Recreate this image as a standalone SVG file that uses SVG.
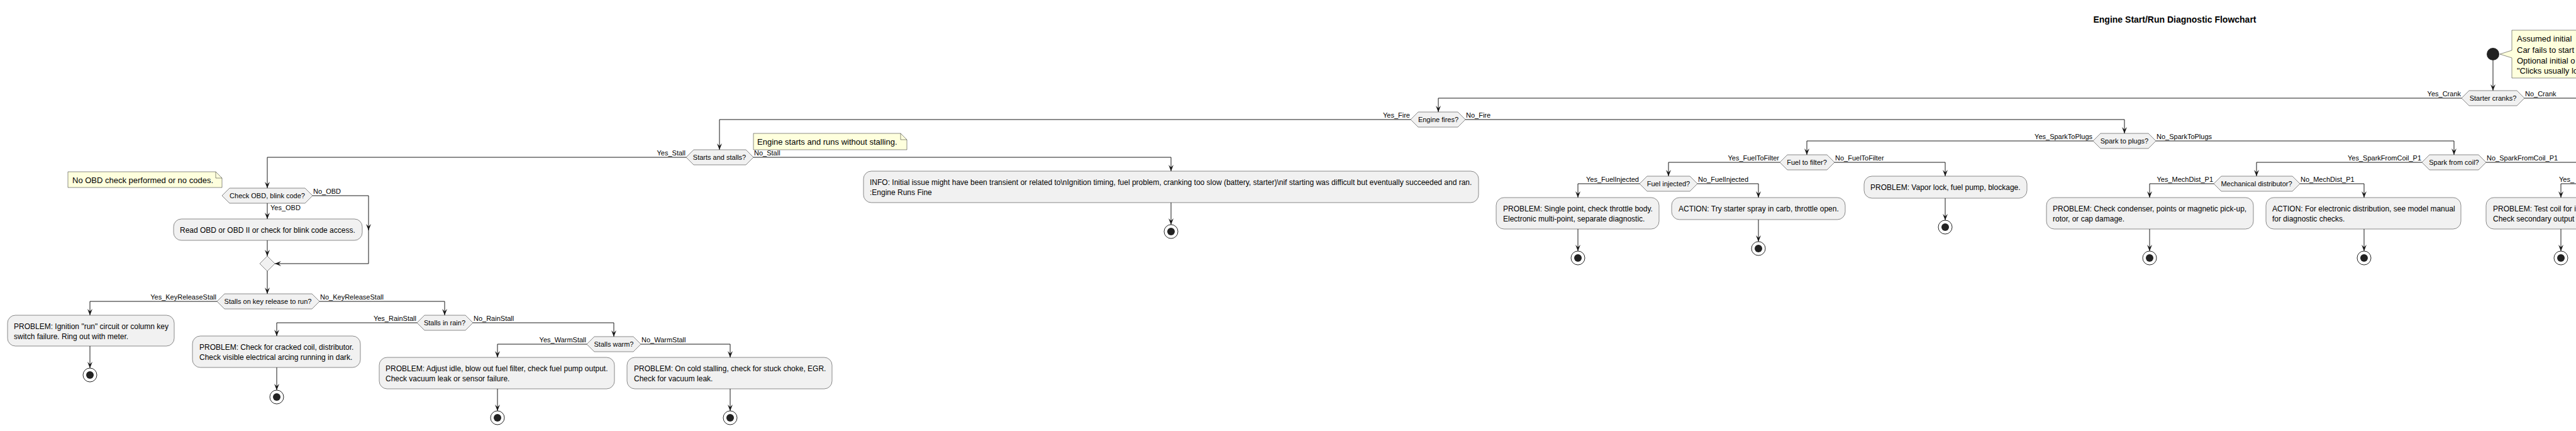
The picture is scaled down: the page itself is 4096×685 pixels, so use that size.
<svg xmlns="http://www.w3.org/2000/svg" width="4096" height="685" viewBox="0 0 4096 685">
<style>
.box{fill:#F1F1F1;stroke:#181818;stroke-width:0.5}
.dec{fill:#F1F1F1;stroke:#181818;stroke-width:0.5}
.note{fill:#FEFFDD;stroke:#181818;stroke-width:0.5}
.fold{fill:none;stroke:#181818;stroke-width:0.5}
.e{fill:none;stroke:#181818;stroke-width:1;marker-end:url(#ah)}
.en{fill:none;stroke:#181818;stroke-width:1}
text{font-family:"Liberation Sans",Arial,sans-serif;fill:#000}
.t12{font-size:12px}
.t11{font-size:11px}
.t13{font-size:13px}
.mid{text-anchor:middle}
.end{text-anchor:end}
.title{font-size:14px;font-weight:bold;text-anchor:middle}
.eo{fill:none;stroke:#222;stroke-width:1}
.ei{fill:#222}
</style>
<defs>
<marker id="ah" markerUnits="userSpaceOnUse" markerWidth="10" markerHeight="10" refX="10" refY="5" orient="auto" viewBox="0 0 10 10"><path d="M0,1 L10,5 L0,9 L4,5 Z" fill="#181818"/></marker>
</defs>
<rect width="4096" height="685" fill="#FFFFFF"/>
<text class="title" x="3458" y="36">Engine Start/Run Diagnostic Flowchart</text>

<g id="connectors">
<path class="e" d="M3964,96 V144"/>
<path class="e" d="M3914,156 H2287 V178"/>
<path class="en" d="M4014,156 H4110"/>
<path class="e" d="M2243,190 H1144 V238"/>
<path class="e" d="M2330,190 H3378 V212"/>
<path class="e" d="M1091,250 H425 V299"/>
<path class="e" d="M1198,250 H1862 V272"/>
<path class="e" d="M1862,322 V357"/>
<path class="e" d="M425,323 V348"/>
<path class="e" d="M497,311 H586 V366"/>
<path class="e" d="M586,360 V419 H437"/>
<path class="e" d="M425,382 V407"/>
<path class="e" d="M425,431 V467"/>
<path class="e" d="M345,479 H143 V501"/>
<path class="e" d="M143,550 V585"/>
<path class="e" d="M508,479 H707 V501"/>
<path class="e" d="M663,513 H440 V534"/>
<path class="e" d="M440,584 V620"/>
<path class="e" d="M752,513 H976 V535"/>
<path class="e" d="M933,547 H791 V568"/>
<path class="e" d="M791,618 V653"/>
<path class="e" d="M1019,547 H1161 V568"/>
<path class="e" d="M1161,618 V653"/>
<path class="e" d="M3328,224 H2873 V246"/>
<path class="e" d="M3428,224 H3902 V246"/>
<path class="e" d="M2830,258 H2653 V280"/>
<path class="e" d="M2917,258 H3093 V280"/>
<path class="e" d="M3093,315 V350"/>
<path class="e" d="M2607,292 H2509 V314"/>
<path class="e" d="M2699,292 H2796 V314"/>
<path class="e" d="M2509,364 V399"/>
<path class="e" d="M2796,349 V384"/>
<path class="e" d="M3851,258 H3588 V280"/>
<path class="en" d="M3953,258 H4110"/>
<path class="e" d="M3520,292 H3418 V314"/>
<path class="e" d="M3657,292 H3759 V314"/>
<path class="e" d="M3418,364 V399"/>
<path class="e" d="M3759,364 V399"/>
<path class="e" d="M4110,292 H4072 V314"/>
<path class="e" d="M4072,364 V399"/>

<text class="t11 end" x="3913" y="153">Yes_Crank</text>
<text class="t11" x="4015" y="153">No_Crank</text>
<text class="t11 end" x="2242" y="187">Yes_Fire</text>
<text class="t11" x="2331" y="187">No_Fire</text>
<text class="t11 end" x="1090" y="247">Yes_Stall</text>
<text class="t11" x="1199" y="247">No_Stall</text>
<text class="t11" x="430" y="334">Yes_OBD</text>
<text class="t11" x="498" y="308">No_OBD</text>
<text class="t11 end" x="344" y="476">Yes_KeyReleaseStall</text>
<text class="t11" x="509" y="476">No_KeyReleaseStall</text>
<text class="t11 end" x="662" y="510">Yes_RainStall</text>
<text class="t11" x="753" y="510">No_RainStall</text>
<text class="t11 end" x="932" y="544">Yes_WarmStall</text>
<text class="t11" x="1020" y="544">No_WarmStall</text>
<text class="t11 end" x="3327" y="221">Yes_SparkToPlugs</text>
<text class="t11" x="3429" y="221">No_SparkToPlugs</text>
<text class="t11 end" x="2829" y="255">Yes_FuelToFilter</text>
<text class="t11" x="2918" y="255">No_FuelToFilter</text>
<text class="t11 end" x="2606" y="289">Yes_FuelInjected</text>
<text class="t11" x="2700" y="289">No_FuelInjected</text>
<text class="t11 end" x="3850" y="255">Yes_SparkFromCoil_P1</text>
<text class="t11" x="3954" y="255">No_SparkFromCoil_P1</text>
<text class="t11 end" x="3519" y="289">Yes_MechDist_P1</text>
<text class="t11" x="3658" y="289">No_MechDist_P1</text>
<text class="t11" x="4069" y="289">Yes_</text>
</g>

<g id="start"><circle cx="3964" cy="86" r="10" fill="#222"/></g>
<g id="note_start">
<path class="note" d="M3994,48 H4110 V124 H3994 V92 L3975,86 L3994,80 Z"/>
<text class="t13" x="4002" y="66">Assumed initial</text>
<text class="t13" x="4002" y="84">Car fails to start</text>
<text class="t13" x="4002" y="101">Optional initial o</text>
<text class="t13" x="4002" y="117">"Clicks usually lo</text>
</g>

<g id="starter_cranks"><path class="dec" d="M3914,156 L3926,144 H4002 L4014,156 L4002,168 H3926 Z"/><text class="t11 mid" x="3964" y="160">Starter cranks?</text></g>
<g id="engine_fires"><path class="dec" d="M2243,190 L2255,178 H2318 L2330,190 L2318,202 H2255 Z"/><text class="t11 mid" x="2287" y="194">Engine fires?</text></g>
<g id="starts_stalls"><path class="dec" d="M1091,250 L1103,238 H1186 L1198,250 L1186,262 H1103 Z"/><text class="t11 mid" x="1144" y="254">Starts and stalls?</text></g>
<g id="note_runs"><path class="note" d="M1198,212 H1432 L1442,222 V238 H1198 Z"/><path class="fold" d="M1432,212 V222 H1442"/><text class="t13" x="1204" y="230">Engine starts and runs without stalling.</text></g>
<g id="info"><rect class="box" x="1373" y="272" width="978" height="50" rx="12.5"/><text class="t12" x="1383" y="294">INFO: Initial issue might have been transient or related to\nIgnition timing, fuel problem, cranking too slow (battery, starter)\nif starting was difficult but eventually succeeded and ran.</text><text class="t12" x="1383" y="310">:Engine Runs Fine</text></g>
<g id="end_info"><circle class="eo" cx="1862" cy="368" r="11"/><circle class="ei" cx="1862" cy="368" r="6"/></g>

<g id="check_obd"><path class="dec" d="M353,311 L365,299 H485 L497,311 L485,323 H365 Z"/><text class="t11 mid" x="425" y="315">Check OBD, blink code?</text></g>
<g id="note_obd"><path class="note" d="M108,273 H343 L353,283 V298 H108 Z"/><path class="fold" d="M343,273 V283 H353"/><text class="t13" x="115" y="291">No OBD check performed or no codes.</text></g>
<g id="read_obd"><rect class="box" x="276" y="348" width="300" height="34" rx="12.5"/><text class="t12" x="286" y="370">Read OBD or OBD II or check for blink code access.</text></g>
<g id="merge"><path class="dec" d="M425,407 L437,419 L425,431 L413,419 Z"/></g>
<g id="stalls_key"><path class="dec" d="M345,479 L357,467 H496 L508,479 L496,491 H357 Z"/><text class="t11 mid" x="426" y="483">Stalls on key release to run?</text></g>
<g id="p_ignition"><rect class="box" x="12" y="501" width="265" height="49" rx="12.5"/><text class="t12" x="22" y="523">PROBLEM: Ignition "run" circuit or column key</text><text class="t12" x="22" y="539">switch failure. Ring out with meter.</text></g>
<g id="end_ign"><circle class="eo" cx="143" cy="596" r="11"/><circle class="ei" cx="143" cy="596" r="6"/></g>
<g id="stalls_rain"><path class="dec" d="M663,513 L675,501 H740 L752,513 L740,525 H675 Z"/><text class="t11 mid" x="707" y="517">Stalls in rain?</text></g>
<g id="p_coil"><rect class="box" x="306" y="534" width="267" height="50" rx="12.5"/><text class="t12" x="317" y="556">PROBLEM: Check for cracked coil, distributor.</text><text class="t12" x="317" y="572">Check visible electrical arcing running in dark.</text></g>
<g id="end_coil"><circle class="eo" cx="440" cy="631" r="11"/><circle class="ei" cx="440" cy="631" r="6"/></g>
<g id="stalls_warm"><path class="dec" d="M933,547 L945,535 H1007 L1019,547 L1007,559 H945 Z"/><text class="t11 mid" x="976" y="551">Stalls warm?</text></g>
<g id="p_idle"><rect class="box" x="603" y="568" width="374" height="50" rx="12.5"/><text class="t12" x="613" y="590">PROBLEM: Adjust idle, blow out fuel filter, check fuel pump output.</text><text class="t12" x="613" y="606">Check vacuum leak or sensor failure.</text></g>
<g id="end_idle"><circle class="eo" cx="791" cy="664" r="11"/><circle class="ei" cx="791" cy="664" r="6"/></g>
<g id="p_cold"><rect class="box" x="997" y="568" width="326" height="50" rx="12.5"/><text class="t12" x="1008" y="590">PROBLEM: On cold stalling, check for stuck choke, EGR.</text><text class="t12" x="1008" y="606">Check for vacuum leak.</text></g>
<g id="end_cold"><circle class="eo" cx="1161" cy="664" r="11"/><circle class="ei" cx="1161" cy="664" r="6"/></g>

<g id="spark_plugs"><path class="dec" d="M3328,224 L3340,212 H3416 L3428,224 L3416,236 H3340 Z"/><text class="t11 mid" x="3378" y="228">Spark to plugs?</text></g>
<g id="fuel_filter"><path class="dec" d="M2830,258 L2842,246 H2905 L2917,258 L2905,270 H2842 Z"/><text class="t11 mid" x="2873" y="262">Fuel to filter?</text></g>
<g id="fuel_injected"><path class="dec" d="M2607,292 L2619,280 H2687 L2699,292 L2687,304 H2619 Z"/><text class="t11 mid" x="2653" y="296">Fuel injected?</text></g>
<g id="p_single"><rect class="box" x="2379" y="314" width="259" height="50" rx="12.5"/><text class="t12" x="2390" y="336">PROBLEM: Single point, check throttle body.</text><text class="t12" x="2390" y="352">Electronic multi-point, separate diagnostic.</text></g>
<g id="end_single"><circle class="eo" cx="2509" cy="410" r="11"/><circle class="ei" cx="2509" cy="410" r="6"/></g>
<g id="a_spray"><rect class="box" x="2658" y="314" width="276" height="35" rx="12.5"/><text class="t12" x="2669" y="336">ACTION: Try starter spray in carb, throttle open.</text></g>
<g id="end_spray"><circle class="eo" cx="2796" cy="395" r="11"/><circle class="ei" cx="2796" cy="395" r="6"/></g>
<g id="p_vapor"><rect class="box" x="2964" y="280" width="259" height="35" rx="12.5"/><text class="t12" x="2974" y="302">PROBLEM: Vapor lock, fuel pump, blockage.</text></g>
<g id="end_vapor"><circle class="eo" cx="3093" cy="361" r="11"/><circle class="ei" cx="3093" cy="361" r="6"/></g>
<g id="spark_coil"><path class="dec" d="M3851,258 L3863,246 H3941 L3953,258 L3941,270 H3863 Z"/><text class="t11 mid" x="3902" y="262">Spark from coil?</text></g>
<g id="mech_dist"><path class="dec" d="M3520,292 L3532,280 H3645 L3657,292 L3645,304 H3532 Z"/><text class="t11 mid" x="3588" y="296">Mechanical distributor?</text></g>
<g id="p_condenser"><rect class="box" x="3254" y="314" width="329" height="50" rx="12.5"/><text class="t12" x="3264" y="336">PROBLEM: Check condenser, points or magnetic pick-up,</text><text class="t12" x="3264" y="352">rotor, or cap damage.</text></g>
<g id="end_condenser"><circle class="eo" cx="3418" cy="410" r="11"/><circle class="ei" cx="3418" cy="410" r="6"/></g>
<g id="a_electronic"><rect class="box" x="3603" y="314" width="310" height="50" rx="12.5"/><text class="t12" x="3613" y="336">ACTION: For electronic distribution, see model manual</text><text class="t12" x="3613" y="352">for diagnostic checks.</text></g>
<g id="end_electronic"><circle class="eo" cx="3759" cy="410" r="11"/><circle class="ei" cx="3759" cy="410" r="6"/></g>
<g id="p_testcoil"><rect class="box" x="3953" y="314" width="260" height="50" rx="12.5"/><text class="t12" x="3964" y="336">PROBLEM: Test coil for i</text><text class="t12" x="3964" y="352">Check secondary output</text></g>
<g id="end_testcoil"><circle class="eo" cx="4072" cy="410" r="11"/><circle class="ei" cx="4072" cy="410" r="6"/></g>
</svg>
